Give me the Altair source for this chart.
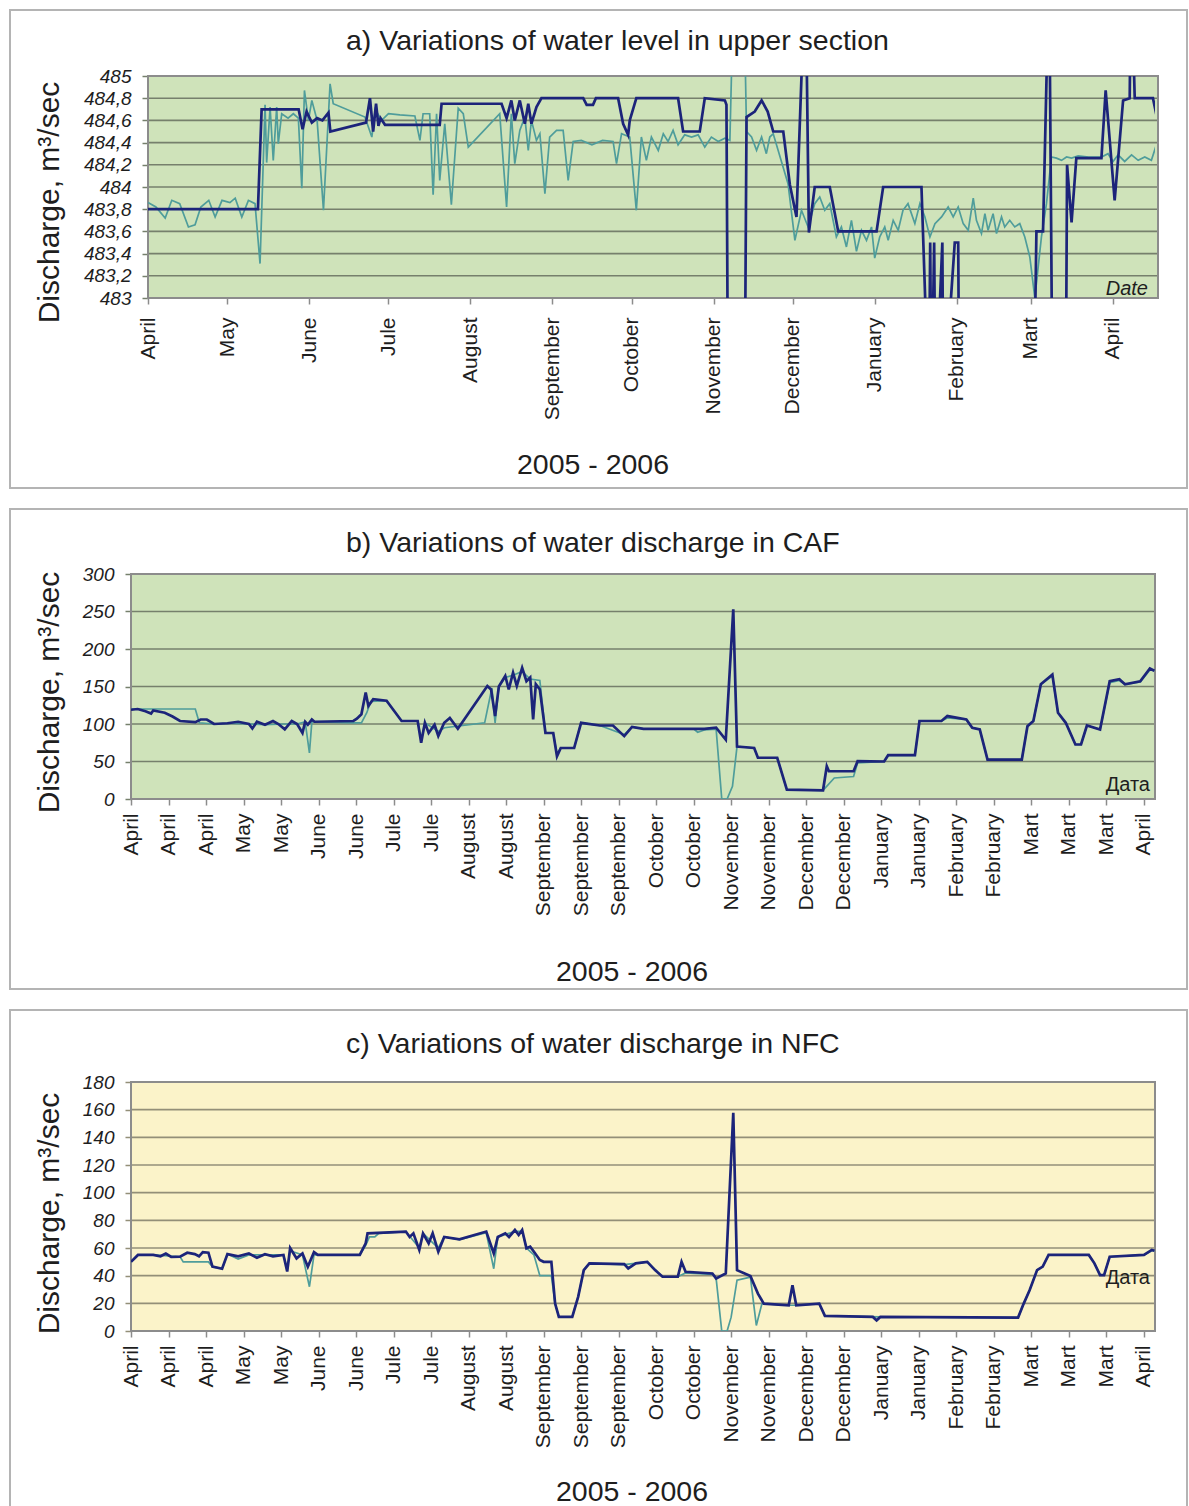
import altair as alt
import pandas as pd

# ---------------------------------------------------------------- data
START = "2005-04-01"   # day 0 of the record
MONTH_NAMES = ["January", "February", "Mart", "April", "May", "June", "Jule",
               "August", "September", "October", "November", "December"]

# a) water level in the upper section (m), day offsets from START
A_NAVY_DAY = [0, 41.6, 43, 57, 58.5, 60, 62, 64, 66, 68.3, 69, 82.5, 84, 85.2, 86.3, 87.2, 88, 89.7,
              110.4, 111.1, 133.8, 135.7, 137.5, 138.8, 140.7, 142.6, 143.9, 145.1, 147, 148.9, 164.7,
              166, 168.4, 169.5, 177.9, 179.8, 181.7, 182.3, 184.8, 200.6, 202.5, 208.8, 210.7, 218.3,
              218.9, 219.5, 225.8, 226.5, 229.6, 232.2, 234.5, 236.6, 240.4, 242.9, 245.4, 248.8, 250.1,
              252.3, 258, 261.2, 275.7, 278.2, 292.7, 295.5, 296, 296.5, 297.5, 298, 300.6, 301, 305.3,
              306.6, 307, 335.2, 336.2, 338.7, 341, 342.3, 347.3, 347.8, 349.5, 351.3, 360.8, 362.4,
              365.8, 369, 371.5, 372, 373.4, 380.3, 382.2]
A_NAVY_VAL = [483.8, 483.8, 484.7, 484.7, 484.52, 484.68, 484.58, 484.62, 484.6, 484.67, 484.5, 484.58,
              484.8, 484.5, 484.75, 484.55, 484.62, 484.56, 484.56, 484.75, 484.75, 484.62, 484.78,
              484.6, 484.78, 484.57, 484.75, 484.57, 484.72, 484.8, 484.8, 484.74, 484.74, 484.8, 484.8,
              484.57, 484.47, 484.6, 484.8, 484.8, 484.5, 484.5, 484.8, 484.78, 484.74, 482.0, 482.0,
              484.63, 484.68, 484.78, 484.68, 484.5, 484.5, 484.02, 483.73, 486.0, 483.59, 484.0, 484.0,
              483.6, 483.6, 484.0, 484.0, 482.0, 483.5, 482.0, 483.5, 482.0, 483.5, 482.0, 483.5, 483.5,
              482.0, 482.0, 483.6, 483.6, 486.0, 482.0, 482.0, 484.2, 483.68, 484.26, 484.26, 484.87,
              483.88, 484.78, 484.8, 486.0, 484.8, 484.8, 484.58]
A_TEAL_DAY = [0, 3, 6.5, 9, 12, 15.3, 17.8, 20, 23, 25.4, 28, 31, 33, 35.5, 38, 40.5, 42.4, 44.3, 44.9,
              46.2, 47.4, 48.7, 49.3, 50.6, 53, 55, 56.9, 58.2, 59.2, 60.7, 62, 64, 66.4, 68.9, 70.1,
              82.1, 84.7, 86, 88.4, 91, 95.3, 101, 102.9, 104.1, 106.6, 107.9, 109.2, 110.4, 112.3,
              114.8, 117.4, 119.3, 121.2, 133.1, 135.7, 137.5, 138.8, 140.7, 142.6, 143.9, 145.1, 147,
              148.3, 150.2, 152, 154.6, 157.1, 159, 160.9, 164, 168, 172, 176, 177.3, 179.2, 182.3,
              184.8, 186.7, 188.6, 190.5, 193.1, 195, 196.8, 198.7, 200.6, 203.1, 205.7, 208.2, 210.7,
              213.2, 215.8, 218.3, 220.2, 221.8, 225.3, 226.5, 228.4, 230.3, 232.2, 234, 235.3, 236.6,
              242.2, 244.8, 247.3, 249.8, 252.3, 254.2, 256.1, 258, 260.5, 262.4, 264.3, 266.2, 268.1,
              270, 271.9, 273.8, 275, 276.9, 278.8, 280.1, 282, 283.9, 285.7, 287.6, 290.2, 292.1, 294,
              295.9, 297.8, 300.3, 302.8, 304.7, 306.6, 308.5, 310.4, 312.3, 313.5, 315.4, 316.7, 317.9,
              319.8, 321.1, 323, 324.2, 326.1, 328, 329.9, 331.8, 333.7, 335.6, 338.1, 340, 341.9,
              343.8, 345.7, 347.6, 349.5, 352, 356, 360.8, 363.3, 365.2, 367.1, 369.6, 372.2, 374.7,
              377.2, 379.7, 381.6]
A_TEAL_VAL = [483.86, 483.82, 483.72, 483.88, 483.85, 483.64, 483.66, 483.82, 483.88, 483.73,
              483.88, 483.86, 483.9, 483.73, 483.88, 483.85, 483.31, 484.74, 484.22, 484.72,
              484.24, 484.72, 484.39, 484.66, 484.62, 484.66, 484.62, 483.99, 484.87, 484.6,
              484.78, 484.6, 483.79, 484.93, 484.75, 484.63, 484.45, 484.7, 484.6, 484.66,
              484.65, 484.64, 484.42, 484.66, 484.66, 483.93, 484.66, 484.06, 484.57, 483.84,
              484.71, 484.66, 484.36, 484.66, 483.82, 484.66, 484.21, 484.51, 484.63, 484.33,
              484.6, 484.42, 484.48, 483.94, 484.45, 484.51, 484.51, 484.06, 484.41, 484.42,
              484.38, 484.42, 484.41, 484.21, 484.48, 484.45, 483.79, 484.45, 484.24, 484.45,
              484.33, 484.48, 484.41, 484.51, 484.38, 484.47, 484.45, 484.47, 484.36, 484.45,
              484.41, 484.44, 484.42, 486.0, 486.0, 484.5, 484.45, 484.33, 484.45, 484.3,
              484.45, 484.48, 484.03, 483.52, 483.79, 483.64, 483.85, 483.91, 483.79, 483.85,
              483.55, 483.64, 483.46, 483.7, 483.42, 483.61, 483.52, 483.64, 483.36, 483.55,
              483.64, 483.52, 483.7, 483.61, 483.79, 483.85, 483.67, 483.85, 483.73, 483.55,
              483.67, 483.73, 483.82, 483.73, 483.82, 483.67, 483.61, 483.9, 483.7, 483.58,
              483.76, 483.61, 483.76, 483.58, 483.73, 483.64, 483.7, 483.64, 483.67, 483.55,
              483.37, 483.0, 483.55, 483.85, 484.27, 484.26, 484.24, 484.27, 484.26, 484.28,
              484.27, 484.27, 484.3, 484.23, 484.29, 484.23, 484.29, 484.24, 484.27, 484.24,
              484.38]
A_Y_TICKS = [483.0, 483.2, 483.4, 483.6, 483.8, 484.0, 484.2, 484.4, 484.6, 484.8, 485.0]
A_TICK_DATES = ["2005-04-01", "2005-05-01", "2005-06-01", "2005-07-01", "2005-08-01", "2005-09-01",
                "2005-10-01", "2005-11-01", "2005-12-01", "2006-01-01", "2006-02-01", "2006-03-01",
                "2006-04-01"]

# b) discharge in CAF (m3/s)
B_NAVY_DAY = [0, 2.5, 5.4, 7.5, 8.3, 12.6, 15.5, 18.3, 24, 26, 28.3, 31, 36, 40, 44, 45.3, 47, 50, 53,
              55, 57.4, 60, 62, 64, 65, 66, 67.5, 68.5, 83, 84.3, 86, 87.6, 88.6, 90.4, 95.4, 101, 107,
              108.3, 109.7, 111.1, 113.3, 114.7, 116.9, 119, 122, 133, 134.4, 135.9, 137.3, 139.7, 141,
              142.6, 144, 146, 147.6, 149, 150.1, 151.1, 152.6, 154.7, 157.6, 159, 160.4, 165.4, 168,
              175, 179.9, 184.1, 187, 191.3, 214, 218.4, 222, 224.8, 226.2, 232.6, 234, 241.2, 244.8,
              258.3, 259.7, 260.5, 269.7, 271.2, 281.1, 282.6, 292.6, 294.3, 302.5, 304.7, 311.8, 314,
              316.8, 319.7, 332.5, 334.6, 336.8, 339.6, 343.9, 346, 348.9, 352.5, 354.6, 356.8, 361.7,
              365.3, 368.9, 371, 376.7, 380.3, 382]
B_NAVY_VAL = [119, 120, 117, 114, 118, 115, 110, 104, 102.5, 106, 106, 100, 101, 103, 100, 94, 103, 99,
              104, 100, 93, 104, 100, 88, 103, 99, 106, 103, 104, 107, 113, 142, 124, 133, 131, 104, 104,
              75, 101.6, 88, 99, 84, 101.6, 108, 93.6, 150.7, 146, 110.6, 150, 164, 146, 168.5, 150.7,
              175, 157, 162, 106, 153, 146, 88, 88, 57, 68, 68, 101.6, 98, 98, 83.8, 96, 93.6, 93.6, 95,
              79, 253, 70, 68, 55, 55, 12.5, 11.6, 43.7, 37, 37, 50.4, 50, 58.4, 58.4, 104, 104, 110.6,
              106, 95, 92.7, 52.6, 52.6, 97, 104, 153, 166, 115, 101.6, 72.7, 72.7, 98, 92.7, 157,
              159.6, 153, 157, 174, 171]
B_TEAL_DAY = [0, 24, 25.5, 31, 36, 44, 50, 57, 62, 65, 66.6, 67.5, 83, 86, 88, 89.5, 95.4, 101, 107,
              108.3, 109.7, 114.7, 117, 132, 134.7, 135.9, 137.3, 139.7, 142.6, 146, 149, 152.6, 154.7,
              157.6, 159, 160.4, 165.4, 168, 175, 184.1, 187, 191.3, 210, 211.5, 214, 218.4, 220.5,
              222.5, 224.5, 226.2, 232.6, 234, 241.2, 244.8, 258.3, 262.5, 269.7, 271.2, 281.1, 282.6,
              292.6, 294.3, 302.5, 304.7, 311.8, 314, 316.8, 319.7, 332.5, 334.6, 336.8, 339.6, 343.9,
              346, 348.9, 352.5, 354.6, 356.8, 361.7, 365.3, 368.9, 371, 376.7, 380.3, 382]
B_TEAL_VAL = [120, 120, 101.6, 100, 101, 100, 99, 100, 100, 103, 61.5, 103, 101.6, 101.6, 115, 130, 131,
              104, 104, 80, 101.6, 90, 95, 101.6, 148, 101.6, 150, 162, 165, 170, 160, 158, 88, 88, 60,
              68, 68, 101.6, 98, 86, 96, 93.6, 93.6, 89, 92, 93, 0, 0, 17, 70, 68, 55, 55, 12.5, 11.6,
              28, 30, 48, 50, 58, 58, 104, 104, 108, 106, 95, 92.7, 52.6, 52.6, 97, 104, 153, 164, 115,
              101.6, 72.7, 72.7, 98, 92.7, 155, 158, 153, 156, 172, 171]
B_Y_TICKS = [0, 50, 100, 150, 200, 250, 300]

# c) discharge in NFC (m3/s)
C_NAVY_DAY = [0, 2.6, 8.3, 11, 13, 15, 18.3, 21, 23.8, 25.4, 26.8, 28.9, 30.4, 34, 36, 40, 44, 47, 50,
              53, 56.9, 58.3, 59.4, 61.8, 64, 66, 68.3, 69.7, 85.4, 87.6, 88.3, 102.6, 104, 105.4,
              107.6, 109, 111.1, 112.6, 114.7, 116.9, 122.6, 132.6, 135.4, 136.9, 139.7, 141.1, 143.3,
              144.7, 146, 147.6, 149, 150.4, 152.6, 154, 156.9, 158.3, 159.7, 164.7, 166.9, 169, 171.1,
              184.1, 185.6, 188.4, 192.7, 195.6, 198.4, 204.1, 205.5, 207, 217, 218.4, 222, 224.8,
              226.2, 231.2, 234, 236.2, 245.5, 246.9, 248.3, 256.9, 259, 276.9, 278.3, 279.7, 331.1,
              333.2, 335.4, 338.2, 340.3, 342.5, 357.5, 359.6, 361.7, 363.2, 365.3, 378.1, 381, 382]
C_NAVY_VAL = [50, 55, 55, 54, 56, 53.5, 53.7, 56.6, 55.6, 54, 57, 56.6, 46.5, 45, 55.6, 54, 56, 53, 55.5,
              54, 55, 43, 60, 52.5, 56, 46.5, 57, 55, 55, 63.4, 70.6, 71.9, 68, 70.6, 58.6, 70.6, 63.4,
              70.6, 57.3, 68, 66.3, 71.9, 56, 68, 70.6, 68, 73, 69.4, 73, 59.8, 61, 57.3, 51.3, 50, 50,
              19.8, 10.2, 10.2, 24.7, 44, 48.9, 48.4, 45.2, 48.9, 50, 44, 39.2, 39.2, 50, 42.8, 41.6,
              38, 41.6, 157.8, 44, 39.7, 27, 19.8, 18.6, 33, 18.6, 19.8, 10.9, 10.2, 7.7, 10.2, 9.7,
              19.8, 29.5, 44, 46.5, 55, 55, 48.9, 40.4, 40.4, 53.7, 55, 58.6, 58]
C_TEAL_DAY = [0, 2.6, 8.3, 18.3, 19.5, 28.9, 30.4, 34, 36, 40, 44, 50, 56.9, 58.3, 59.4, 64, 66.6, 68.3,
              85.4, 87.6, 89, 91, 92.5, 102.6, 107.6, 109, 114.7, 116.9, 122.6, 132.6, 135.4, 136.9,
              143.3, 146, 147.6, 150.4, 152.6, 156.9, 158.3, 159.7, 164.7, 166.9, 169, 171.1, 184.1,
              192.7, 198.4, 204.1, 207, 217, 218.4, 220.5, 222.5, 224, 226.2, 231.2, 233.4, 235.5,
              245.5, 248.3, 256.9, 259, 279.7, 331.1, 333.2, 335.4, 338.2, 340.3, 342.5, 357.5, 359.6,
              361.7, 363.2, 365.3, 378.1, 381, 382]
C_TEAL_VAL = [50, 55, 55, 53.7, 50, 50, 46.5, 45, 55.6, 52, 55, 55, 55, 45, 58, 55, 32, 55, 55, 62, 68,
              68, 70.6, 71.9, 60, 70.6, 60, 68, 66, 71, 45, 68, 72, 72, 60, 55, 40, 40, 19.8, 10.2, 10.2,
              24.7, 44, 48.9, 48, 50, 39.2, 39.2, 42, 41, 38, 0, 0, 10, 36.8, 39, 4, 19.8, 18.6, 18.6,
              19.8, 10.9, 10.2, 9.7, 19.8, 29.5, 44, 46.5, 55, 55, 48.9, 40.4, 40.4, 53.7, 55, 58, 58]
C_Y_TICKS = [0, 20, 40, 60, 80, 100, 120, 140, 160, 180]

# fortnightly category ticks of the discharge panels
BC_TICK_DATES = ["2005-04-01", "2005-04-15", "2005-04-29", "2005-05-13", "2005-05-27", "2005-06-10",
                 "2005-06-24", "2005-07-08", "2005-07-22", "2005-08-05", "2005-08-19", "2005-09-02",
                 "2005-09-16", "2005-09-30", "2005-10-14", "2005-10-28", "2005-11-11", "2005-11-25",
                 "2005-12-09", "2005-12-23", "2006-01-06", "2006-01-20", "2006-02-03", "2006-02-17",
                 "2006-03-03", "2006-03-17", "2006-03-31", "2006-04-14"]

# ---------------------------------------------------------------- style
FONT = "Liberation Sans, Arial, sans-serif"
NAVY = "#1c247a"
TEAL = "#4f9d9b"
GREEN_BG = "#cfe3ba"
YELLOW_BG = "#fbf3c9"
TEXT = "#1e1e1e"
BOX = "#b4b4b4"
PLOT_BORDER = "#8c8c8c"

MONTH_EXPR = "[" + ",".join("'%s'" % m for m in MONTH_NAMES) + "][month(datum.value)]"
X_DOMAIN = [alt.DateTime(year=2005, month=4, date=1),
            alt.DateTime(year=2006, month=4, date=18, hours=5)]
W = 1024   # common plot-group width; panel a uses a narrower inset of it


def to_dt(s):
    y, m, d = (int(p) for p in s.split("-"))
    return alt.DateTime(year=y, month=m, date=d)


def series(days, vals):
    return pd.DataFrame({"date": pd.Timestamp(START) + pd.to_timedelta(days, unit="D"),
                         "value": vals})


def note(text, x, y, size, align="left", style="normal"):
    return alt.Chart(pd.DataFrame({"t": [text]})).mark_text(
        align=align, baseline="alphabetic", font=FONT, fontSize=size, fontStyle=style, color=TEXT
    ).encode(x=alt.value(x), y=alt.value(y), text="t:N")


def panel(navy, teal, x0, x1, height, bg, grid, y_domain, y_ticks, y_expr, tick_dates, x_pad,
          y_title_xy, title, title_xy, year_xy, tag, tag_xy, tag_style, box):
    y_axis_opts = dict(values=y_ticks, labelFontStyle="italic", labelFontSize=19, labelColor=TEXT,
                       labelFont=FONT, labelPadding=11, tickSize=6, tickColor=grid, tickWidth=1.5,
                       grid=False, domain=False, offset=-x0,
                       titleFont=FONT, titleFontSize=30, titleFontWeight="normal", titleColor=TEXT,
                       titleAngle=270, titleBaseline="alphabetic", titleAlign="center",
                       titleX=y_title_xy[0], titleY=y_title_xy[1])
    if y_expr:
        y_axis_opts["labelExpr"] = y_expr
    x = alt.X("date:T", title=None, scale=alt.Scale(domain=X_DOMAIN, range=[x0, x1]),
              axis=alt.Axis(values=[to_dt(s) for s in tick_dates], labelExpr=MONTH_EXPR,
                            labelAngle=270, labelFontSize=21, labelFont=FONT, labelColor=TEXT,
                            labelOverlap=False, labelFlush=False, labelBound=False,
                            labelPadding=x_pad, tickSize=6, tickColor=PLOT_BORDER, tickWidth=1.5,
                            domain=False, grid=False))
    y = alt.Y("value:Q", title="Discharge, m³/sec",
              scale=alt.Scale(domain=y_domain, nice=False, zero=False),
              axis=alt.Axis(**y_axis_opts))

    one = pd.DataFrame({"k": [0]})
    frame = alt.Chart(one).mark_rect(fillOpacity=0, stroke=BOX, strokeWidth=2, clip=False).encode(
        x=alt.value(box[0]), x2=alt.value(box[1]), y=alt.value(box[2]), y2=alt.value(box[3]))
    plot_bg = alt.Chart(one).mark_rect(fill=bg).encode(
        x=alt.value(x0), x2=alt.value(x1), y=alt.value(0), y2=alt.value(height))
    grid_lines = alt.Chart(pd.DataFrame({"value": y_ticks})).mark_rule(
        color=grid, strokeWidth=1.6).encode(y=y, x=alt.value(x0), x2=alt.value(x1))
    plot_border = alt.Chart(one).mark_rect(fillOpacity=0, stroke=PLOT_BORDER, strokeWidth=2).encode(
        x=alt.value(x0), x2=alt.value(x1), y=alt.value(0), y2=alt.value(height))
    teal_line = alt.Chart(teal).mark_line(color=TEAL, strokeWidth=1.7, clip=True).encode(x=x, y=y)
    navy_line = alt.Chart(navy).mark_line(color=NAVY, strokeWidth=2.7, clip=True).encode(x=x, y=y)

    return alt.layer(
        frame, plot_bg, grid_lines, plot_border, teal_line, navy_line,
        note(title, title_xy[0], title_xy[1], 28.5),
        note("2005 - 2006", year_xy[0], year_xy[1], 28.5, align="center"),
        note(tag, tag_xy[0], tag_xy[1], 20, align="right", style=tag_style),
    ).properties(width=W, height=height,
                 view=alt.ViewBackground(fillOpacity=0, strokeOpacity=0))


A_EXPR = "replace(replace(format(datum.value, '.1f'), '.0', ''), '.', ',')"

chart_a = panel(series(A_NAVY_DAY, A_NAVY_VAL), series(A_TEAL_DAY, A_TEAL_VAL),
                17, 1027, 222, GREEN_BG, "#76806c", [483, 485], A_Y_TICKS, A_EXPR, A_TICK_DATES, 13,
                (-90, 126), "a) Variations of water level in upper section", (215, -26),
                (462, 398), "Date", (1017, 219), "italic", (-121, 1056, -66, 412))
chart_b = panel(series(B_NAVY_DAY, B_NAVY_VAL), series(B_TEAL_DAY, B_TEAL_VAL),
                0, 1024, 225, GREEN_BG, "#76806c", [0, 300], B_Y_TICKS, None, BC_TICK_DATES, 8,
                (-73, 118), "b) Variations of water discharge in CAF", (215, -22),
                (501, 407), "Дата", (1019, 217), "normal", (-121, 1056, -65, 415))
chart_c = panel(series(C_NAVY_DAY, C_NAVY_VAL), series(C_TEAL_DAY, C_TEAL_VAL),
                0, 1024, 249, YELLOW_BG, "#938f78", [0, 180], C_Y_TICKS, None, BC_TICK_DATES, 8,
                (-73, 131), "c) Variations of water discharge in NFC", (215, -29),
                (501, 419), "Дата", (1019, 202), "normal", (-121, 1056, -72, 445))

chart = alt.vconcat(chart_a, chart_b, chart_c, spacing=19).properties(
    padding={"left": 9, "top": 9, "right": 0, "bottom": 0},
    background="white",
).configure_text(font=FONT)

chart.save("out.html", embed_options={"renderer": "svg", "actions": False})
